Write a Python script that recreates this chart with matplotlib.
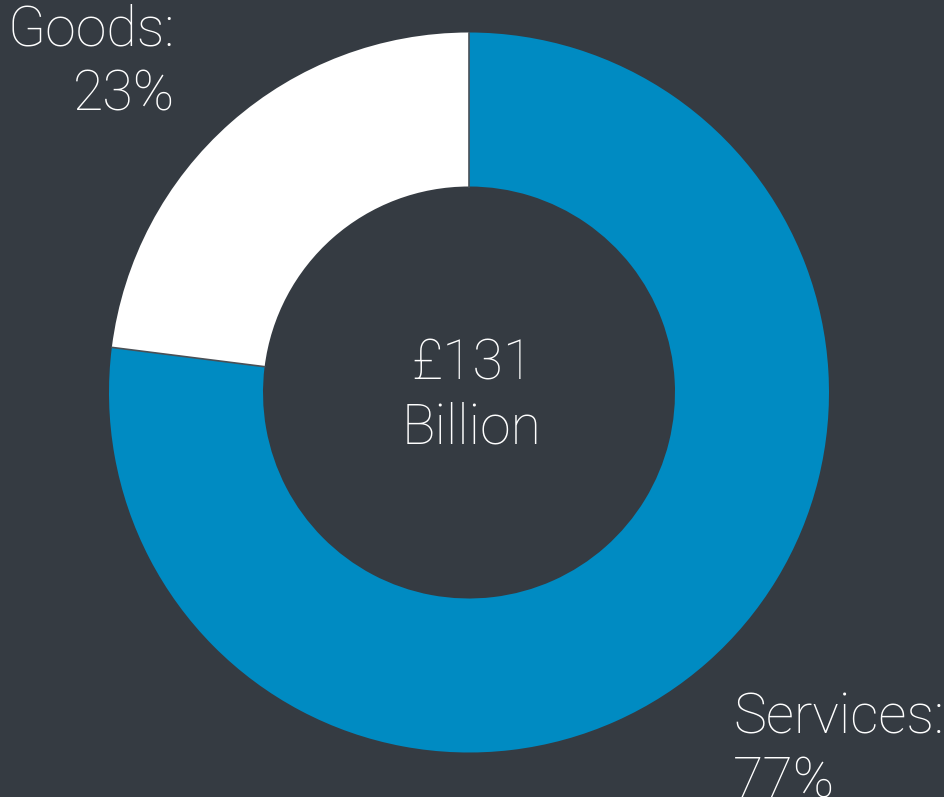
import numpy as np
import matplotlib.pyplot as plt

# datos del gráfico
labels = ['Goods', 'Services']
shares = [23, 77]
colors = ['#ffffff', '#008bc2']
total_label = '£131'
total_unit = 'Billion'

bg = '#353b42'
W, H = 945, 797

fam = ['Roboto', 'DejaVu Sans']
txt = dict(color='white', fontsize=40, fontweight='light', family=fam)

fig = plt.figure(figsize=(W / 100, H / 100), dpi=100, facecolor=bg)
ax = fig.add_axes([0, 0, 1, 1])
ax.set_facecolor(bg)

# anillo: centro y radios en píxeles
cx, cy = 469, H - 392.5
r_out, r_in = 360, 206
start = 90
ax.pie(shares, colors=colors, startangle=start, counterclock=True,
       center=(cx, cy), radius=r_out, frame=True,
       wedgeprops=dict(width=r_out - r_in, linewidth=0))

# líneas finas entre segmentos
bordes = start + 360 * np.cumsum([0] + shares[:-1]) / sum(shares)
for ang in bordes:
    a = np.deg2rad(ang)
    ax.plot([cx + r_in * np.cos(a), cx + r_out * np.cos(a)],
            [cy + r_in * np.sin(a), cy + r_out * np.sin(a)],
            color='#4a5056', linewidth=1.2)

ax.set_xlim(0, W)
ax.set_ylim(0, H)
ax.set_aspect('equal')
ax.axis('off')

# etiquetas
ax.text(175, H - 45, f'{labels[0]}:', ha='right', va='baseline', **txt)
ax.text(175, H - 110, f'{shares[0]}%', ha='right', va='baseline', **txt)
ax.text(733, H - 733, f'{labels[1]}:', ha='left', va='baseline', **txt)
ax.text(733, H - 797, f'{shares[1]}%', ha='left', va='baseline', **txt)
ax.text(472, H - 380, total_label, ha='center', va='baseline', **txt)
ax.text(472, H - 443, total_unit, ha='center', va='baseline', **txt)

fig.savefig('out.png', dpi=100, facecolor=bg)
